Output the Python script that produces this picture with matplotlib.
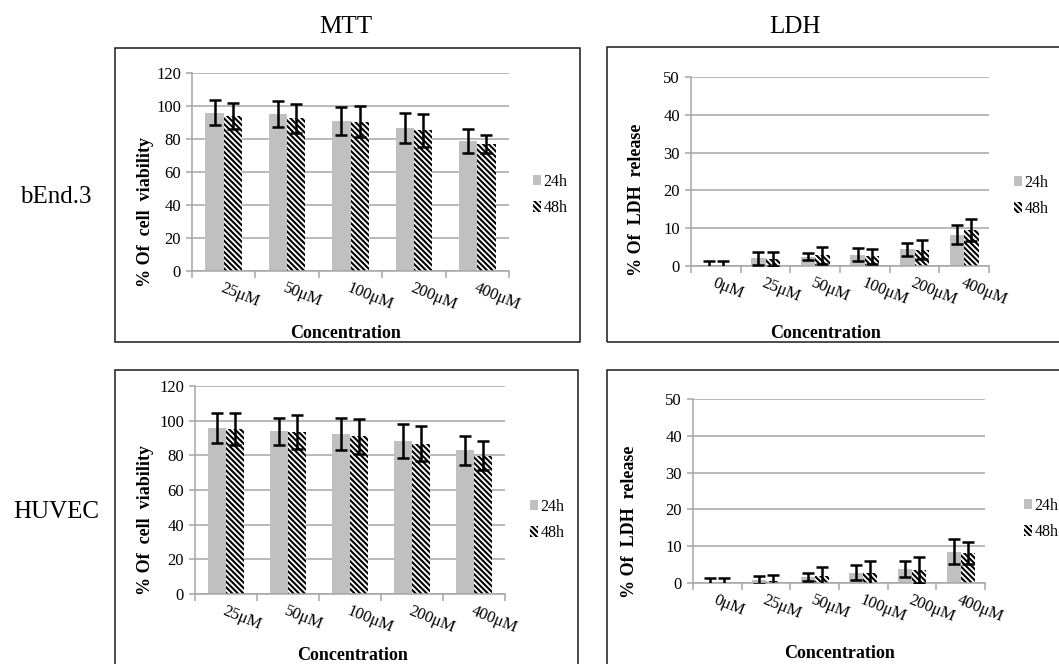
import numpy as np
import matplotlib
matplotlib.use("Agg")
import matplotlib.pyplot as plt
from matplotlib.patches import Rectangle

plt.rcParams['font.family'] = ['Liberation Serif', 'DejaVu Serif']
plt.rcParams['hatch.linewidth'] = 1.5

W, H = 1059, 664

# data
mtt_conc = ['25μM', '50μM', '100μM', '200μM', '400μM']
ldh_conc = ['0μM', '25μM', '50μM', '100μM', '200μM', '400μM']

bend_mtt_24 = [96.0, 95.0, 91.0, 86.6, 78.8]
bend_mtt_24_err = [7.5, 8.0, 8.4, 9.2, 7.3]
bend_mtt_48 = [94.0, 92.6, 90.4, 85.2, 76.8]
bend_mtt_48_err = [7.8, 8.8, 9.3, 10.1, 5.5]

bend_ldh_24 = [0.0, 2.0, 2.5, 3.0, 4.4, 8.3]
bend_ldh_24_err = [1.3, 1.7, 1.0, 1.8, 1.8, 2.6]
bend_ldh_48 = [0.0, 1.8, 2.8, 2.6, 4.3, 9.6]
bend_ldh_48_err = [1.3, 1.9, 2.2, 2.0, 2.5, 2.9]

huv_mtt_24 = [95.8, 93.9, 92.3, 88.3, 82.9]
huv_mtt_24_err = [8.4, 7.7, 9.4, 9.8, 8.5]
huv_mtt_48 = [95.0, 93.4, 91.0, 86.8, 79.8]
huv_mtt_48_err = [9.3, 9.6, 10.1, 10.3, 8.2]

huv_ldh_24 = [0.0, 0.7, 1.6, 2.8, 3.7, 8.5]
huv_ldh_24_err = [1.4, 1.1, 1.1, 2.0, 2.2, 3.4]
huv_ldh_48 = [0.0, 0.5, 1.8, 2.6, 3.6, 8.2]
huv_ldh_48_err = [1.4, 1.6, 2.5, 3.3, 3.5, 3.0]


def rect(x0, y0, x1, y1):
    return [x0 / W, 1 - y1 / H, (x1 - x0) / W, (y1 - y0) / H]


fig = plt.figure(figsize=(W / 100, H / 100), dpi=100)

# frames round each panel
for (x0, y0, x1, y1) in [(115, 48, 580, 342), (607, 47, 1075, 342),
                         (115, 370, 578, 690), (607, 370, 1075, 690)]:
    fig.patches.append(Rectangle((x0 / W, 1 - y1 / H), (x1 - x0) / W, (y1 - y0) / H,
                                 transform=fig.transFigure, fill=False,
                                 edgecolor='#1a1a1a', linewidth=1.1, clip_on=False))


def panel(box, cats, v24, e24, v48, e48, ymax, ystep, ylab, ylab_xy, leg_xy, xl_xy):
    ax = fig.add_axes(rect(*box))
    n = len(cats)
    x = np.arange(n)
    w = 0.29
    b1 = ax.bar(x - w / 2, v24, w, color='#c0c0c0', linewidth=0, zorder=2)
    b2 = ax.bar(x + w / 2, v48, w, color='white', edgecolor='black',
                hatch='\\' * 6, linewidth=0, zorder=2)
    ax.errorbar(x - w / 2, v24, yerr=e24, fmt='none', ecolor='black',
                elinewidth=1.8, capsize=4.2, capthick=1.8, zorder=3)
    ax.errorbar(x + w / 2, v48, yerr=e48, fmt='none', ecolor='black',
                elinewidth=1.8, capsize=4.2, capthick=1.8, zorder=3)
    ax.set_xlim(-0.5, n - 0.5)
    ax.set_ylim(0, ymax)
    ax.set_yticks(np.arange(0, ymax + 1, ystep))
    ax.yaxis.grid(True, color='#a6a6a6', linewidth=1.1)
    ax.set_axisbelow(True)
    for s in ['top', 'right']:
        ax.spines[s].set_visible(False)
    for s in ['left', 'bottom']:
        ax.spines[s].set_color('#a6a6a6')
        ax.spines[s].set_linewidth(1.1)
    ax.tick_params(axis='y', colors='#a6a6a6', labelcolor='black',
                   labelsize=12, length=4, width=1.1, pad=4)
    ax.set_xticks(x)
    ax.set_xticklabels([])
    ax.tick_params(axis='x', length=0)
    ax.set_xticks(np.arange(n + 1) - 0.5, minor=True)
    ax.tick_params(axis='x', which='minor', length=5, width=1.1, colors='#a6a6a6')
    for i, c in enumerate(cats):
        ax.annotate(c, (i, 0), xycoords=('data', 'axes fraction'),
                    xytext=(-2, -12), textcoords='offset points',
                    rotation=-22, rotation_mode='anchor', ha='left', va='center',
                    fontsize=12)
    fig.text(ylab_xy[0] / W, 1 - ylab_xy[1] / H, ylab, rotation=90,
             ha='center', va='center', fontsize=13, fontweight='bold')
    fig.text(xl_xy[0] / W, 1 - xl_xy[1] / H, 'Concentration',
             ha='center', va='center', fontsize=13, fontweight='bold')
    ax.legend([b1, b2], ['24h', '48h'], loc='center left',
              bbox_to_anchor=(leg_xy[0] / W, 1 - leg_xy[1] / H),
              bbox_transform=fig.transFigure, frameon=False, fontsize=11.5,
              handlelength=0.5, handleheight=0.6, handletextpad=0.15,
              labelspacing=0.65, borderpad=0, borderaxespad=0)
    return ax


panel((192, 73, 509, 271), mtt_conc, bend_mtt_24, bend_mtt_24_err,
      bend_mtt_48, bend_mtt_48_err, 120, 20, '% Of  cell  viability',
      (146, 212), (533, 195), (346, 333))
panel((691, 77, 989, 266), ldh_conc, bend_ldh_24, bend_ldh_24_err,
      bend_ldh_48, bend_ldh_48_err, 50, 10, '% Of  LDH  release',
      (636, 200), (1014, 196), (826, 333))
panel((195, 386, 505, 594), mtt_conc, huv_mtt_24, huv_mtt_24_err,
      huv_mtt_48, huv_mtt_48_err, 120, 20, '% Of  cell  viability',
      (146, 520), (530, 520), (353, 655))
panel((693, 399, 985, 583), ldh_conc, huv_ldh_24, huv_ldh_24_err,
      huv_ldh_48, huv_ldh_48_err, 50, 10, '% Of  LDH  release',
      (630, 522), (1024, 519), (840, 654))

fig.text(346 / W, 1 - 27 / H, 'MTT', ha='center', va='center', fontsize=18)
fig.text(795 / W, 1 - 27 / H, 'LDH', ha='center', va='center', fontsize=18)
fig.text(56 / W, 1 - 197 / H, 'bEnd.3', ha='center', va='center', fontsize=18)
fig.text(56 / W, 1 - 512 / H, 'HUVEC', ha='center', va='center', fontsize=18)

fig.savefig('out.png', dpi=100)
